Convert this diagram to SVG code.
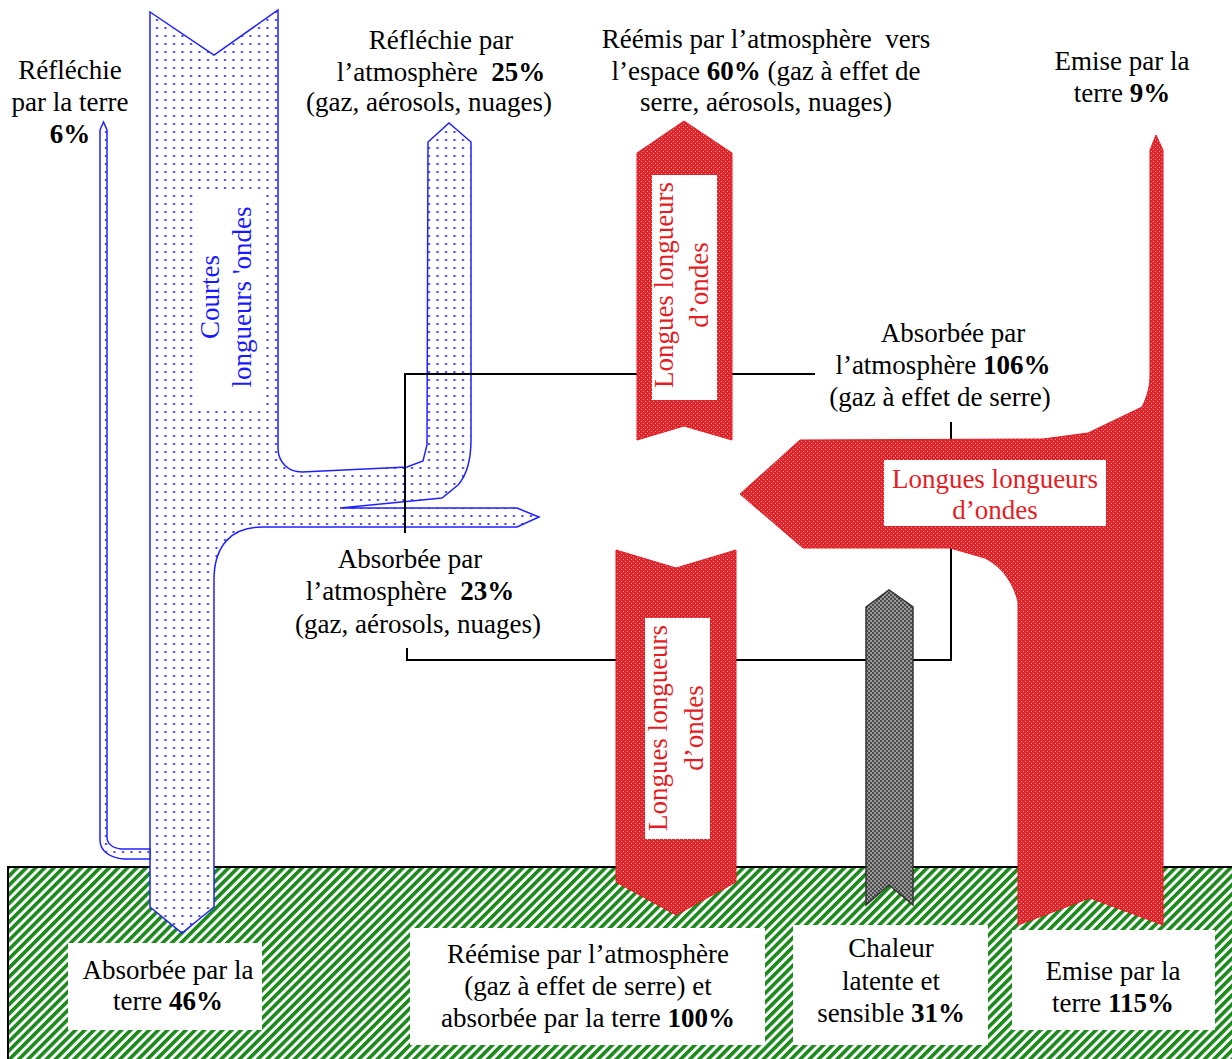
<svg xmlns="http://www.w3.org/2000/svg" width="1232" height="1059" viewBox="0 0 1232 1059">
<defs>
<pattern id="dots" width="8.5" height="8" patternUnits="userSpaceOnUse"><rect width="8.5" height="8" fill="#fff"/><rect x="3" y="3" width="2" height="2" fill="#3a3aff"/></pattern>
<pattern id="redp" width="4" height="4" patternUnits="userSpaceOnUse"><rect width="4" height="4" fill="#e42228"/><rect x="1" y="1" width="1" height="1" fill="#f8b0b0"/><rect x="3" y="3" width="1" height="1" fill="#f8b0b0"/></pattern>
<pattern id="greyp" width="4" height="4" patternUnits="userSpaceOnUse"><rect width="4" height="4" fill="#9a9a9a"/><rect width="2" height="2" fill="#4a4a4a"/><rect x="2" y="2" width="2" height="2" fill="#4a4a4a"/></pattern>
<pattern id="green" width="6.5" height="10" patternUnits="userSpaceOnUse" patternTransform="rotate(45)"><rect width="6.5" height="10" fill="#fff"/><rect width="3.6" height="10" fill="#1b8a1b"/></pattern>
<style>
text{font-family:"Liberation Serif","Times New Roman",serif;font-size:27px;fill:#000}
.c{text-anchor:middle}
.blue{fill:#1a1aff}
.red{fill:#e41c24}
.bl{fill:url(#dots);stroke:#2020ff;stroke-width:1.5}
.rd{fill:url(#redp);stroke:#e41c24;stroke-width:1}
.conn{stroke:#000;stroke-width:2;fill:none}
.box{fill:#fff}
</style>
</defs>

<g id="ground">
<rect x="8" y="867" width="1230" height="200" fill="url(#green)" stroke="#000" stroke-width="2"/>
</g>

<g id="shortwave">
<path class="bl" d="M150,12 L214,55 L278,10 L278,448 C278,462 288,472 302,472 L407,467 L423,461 L427,445 L428,142 L449,123 L471,142 L471,440 C471,460 466,476 458,485 L442,498 L340,508 L517,508 L539,517 L517,527 L262,527 C232,527 214,545 214,580 L214,907 L182,933 L150,907 Z"/>
<path class="bl" d="M100,130 L103.5,122 L107,130 L107,837 C107,844 113,848 121,849 L150,849 L150,859 L124,859 C110,858 100,851 100,840 Z"/>
<rect class="box" x="193" y="190" width="73" height="220"/>
<g transform="translate(229,297) rotate(-90)"><text class="c blue" x="0" y="-10">Courtes</text><text class="c blue" x="0" y="22">longueurs 'ondes</text></g>
</g>

<g id="connectors">
<polyline class="conn" points="405,533 405,374 815,374"/>
<polyline class="conn" points="407,648 407,660 951,660 951,422"/>
</g>

<g id="lw-space">
<path class="rd" d="M637,153 L684,121 L732,153 L732,440 L684,426 L637,440 Z"/>
<rect class="box" x="652" y="175" width="65" height="225"/>
<g transform="translate(684,285) rotate(-90)"><text class="c red" x="0" y="-11">Longues longueurs</text><text class="c red" x="0" y="24">d’ondes</text></g>
</g>

<g id="lw-down">
<path class="rd" d="M616,550 L676,568 L736,550 L736,882 L676,915 L616,882 Z"/>
<rect class="box" x="645" y="618" width="65" height="221"/>
<g transform="translate(677,728) rotate(-90)"><text class="c red" x="0" y="-10">Longues longueurs</text><text class="c red" x="0" y="26">d’ondes</text></g>
</g>

<g id="latent">
<path d="M866,607 L889,590 L913,607 L913,905 L889,885 L866,905 Z" fill="url(#greyp)" stroke="#333" stroke-width="1.5"/>
</g>

<g id="lw-earth">
<path class="rd" d="M1018,925 L1018,602 C1014,585 1004,568 985,558 L950,548 L803,548 L740,494 L800,440 L1043,439 L1088,433 L1142,407 C1148,395 1150,385 1150,375 L1150,150 L1156,135 L1163,150 L1163,925 L1090,898 Z"/>
<rect class="box" x="884" y="460" width="222" height="66"/>
<text class="c red" x="995" y="488">Longues longueurs</text>
<text class="c red" x="995" y="519">d’ondes</text>
</g>

<g id="labels-top">
<text class="c" x="70" y="79">Réfléchie</text>
<text class="c" x="70" y="111">par la terre</text>
<text class="c" x="70" y="143" font-weight="bold">6%</text>
<text class="c" x="441" y="49">Réfléchie par</text>
<text class="c" x="441" y="81" xml:space="preserve">l’atmosphère  <tspan font-weight="bold">25%</tspan></text>
<text class="c" x="429" y="111">(gaz, aérosols, nuages)</text>
<text class="c" x="766" y="48" xml:space="preserve">Réémis par l’atmosphère  vers</text>
<text class="c" x="766" y="80">l’espace <tspan font-weight="bold">60%</tspan> (gaz à effet de</text>
<text class="c" x="766" y="111">serre, aérosols, nuages)</text>
<text class="c" x="1122" y="70">Emise par la</text>
<text class="c" x="1122" y="102">terre <tspan font-weight="bold">9%</tspan></text>
</g>

<g id="labels-mid">
<text class="c" x="953" y="342">Absorbée par</text>
<text class="c" x="943" y="374">l’atmosphère <tspan font-weight="bold">106%</tspan></text>
<text class="c" x="940" y="406">(gaz à effet de serre)</text>
<text class="c" x="410" y="568">Absorbée par</text>
<text class="c" x="410" y="600" xml:space="preserve">l’atmosphère  <tspan font-weight="bold">23%</tspan></text>
<text class="c" x="418" y="633">(gaz, aérosols, nuages)</text>
</g>

<g id="labels-bottom">
<rect class="box" x="68" y="943" width="194" height="87"/>
<text class="c" x="168" y="979">Absorbée par la</text>
<text class="c" x="168" y="1010">terre <tspan font-weight="bold">46%</tspan></text>
<rect class="box" x="410" y="928" width="355" height="117"/>
<text class="c" x="588" y="963">Réémise par l’atmosphère</text>
<text class="c" x="588" y="995">(gaz à effet de serre) et</text>
<text class="c" x="588" y="1027">absorbée par la terre <tspan font-weight="bold">100%</tspan></text>
<rect class="box" x="793" y="925" width="195" height="120"/>
<text class="c" x="891" y="957">Chaleur</text>
<text class="c" x="891" y="990">latente et</text>
<text class="c" x="891" y="1022">sensible <tspan font-weight="bold">31%</tspan></text>
<rect class="box" x="1012" y="930" width="203" height="100"/>
<text class="c" x="1113" y="980">Emise par la</text>
<text class="c" x="1113" y="1012">terre <tspan font-weight="bold">115%</tspan></text>
</g>
</svg>
